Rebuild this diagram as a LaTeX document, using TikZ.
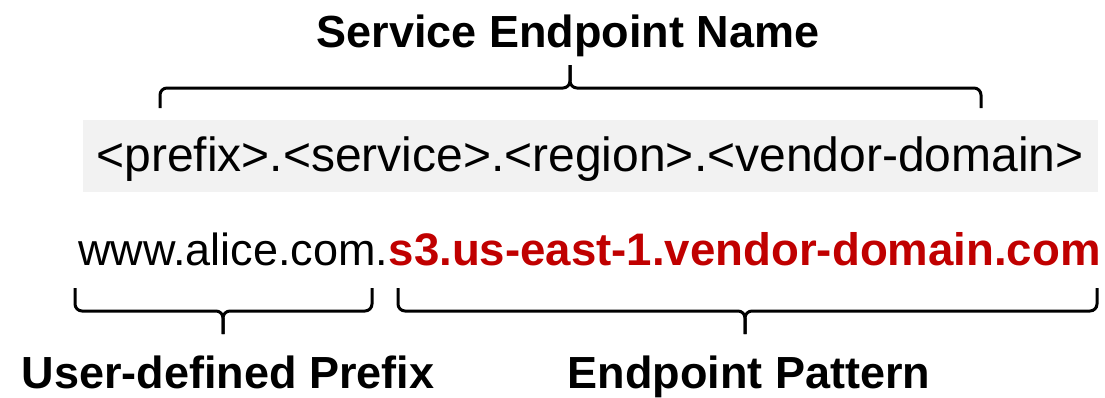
\documentclass[tikz,border=0pt]{standalone}
\usepackage{fontspec}
\setmainfont{Liberation Sans}
\definecolor{boxgray}{HTML}{F2F2F2}
\definecolor{darkred}{HTML}{C00000}
\tikzset{
  bracepath/.style={draw=black, line width=3pt, rounded corners=7pt, line cap=butt},
  big/.style={font=\fontsize{45}{54}\selectfont, inner sep=0pt},
  bigbold/.style={font=\fontsize{45}{54}\selectfont\bfseries, inner sep=0pt},
}
\begin{document}
\begin{tikzpicture}[x=1pt,y=-1pt]
\useasboundingbox (0,0) rectangle (1105,397);
\fill[boxgray] (83,120) rectangle (1098,192);
\node[bigbold, anchor=base] (title) at (568,47) {Service Endpoint Name};
\node[font=\fontsize{48}{56}\selectfont, inner sep=0pt, anchor=base] (pattern) at (590,171) {<prefix>.<service>.<region>.<vendor-domain>};
\node[big, anchor=base west] (user) at (78,265) {www.alice.com.};
\node[font=\fontsize{45.6}{54}\selectfont\bfseries, inner sep=0pt, anchor=base west, text=darkred] (ep) at (user.base east) {s3.us-east-1.vendor-domain.com};
\node[bigbold, anchor=base] (userlbl) at (228,388) {User-defined Prefix};
\node[bigbold, anchor=base] (eplbl) at (749,388) {Endpoint Pattern};
% top brace
\coordinate (tt) at (570,65);
\draw[bracepath] (160,108) -- (160,88) -- (570,88) -- (tt);
\draw[bracepath] (981,108) -- (981,88) -- (570,88) -- (tt);
% bottom left brace
\coordinate (bl) at (223,334);
\draw[bracepath] (75,288) -- (75,311) -- (223,311) -- (bl);
\draw[bracepath] (372,288) -- (372,311) -- (223,311) -- (bl);
% bottom right brace
\coordinate (br) at (745,334);
\draw[bracepath] (398,288) -- (398,311) -- (745,311) -- (br);
\draw[bracepath] (1097,288) -- (1097,311) -- (745,311) -- (br);
\end{tikzpicture}
\end{document}
